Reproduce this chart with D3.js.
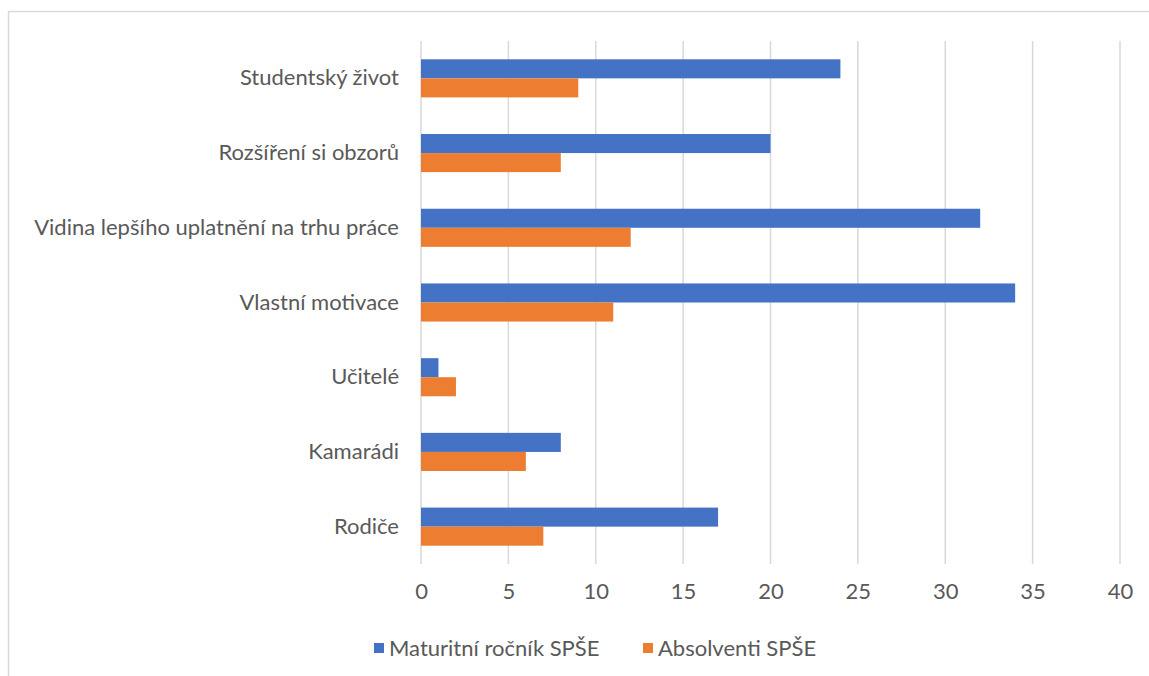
<!DOCTYPE html>
<html>
<head>
<meta charset="utf-8">
<script src="https://cdn.jsdelivr.net/npm/d3@7"></script>
<style>
  body { margin: 0; background: #fff; }
  text { font-family: Lato, "Open Sans", sans-serif; fill: #595959; }
</style>
</head>
<body>
<div id="chart"></div>
<script>
// categories top to bottom, as shown
const categories = ["Studentský život", "Rozšíření si obzorů", "Vidina lepšího uplatnění na trhu práce",
                    "Vlastní motivace", "Učitelé", "Kamarádi", "Rodiče"];
const seriesNames = ["Maturitní ročník SPŠE", "Absolventi SPŠE"];
const maturitni = [24, 20, 32, 34, 1, 8, 17];
const absolventi = [9, 8, 12, 11, 2, 6, 7];
const xTicks = [0, 5, 10, 15, 20, 25, 30, 35, 40];
const colors = ["#4472C4", "#ED7D31"];

const W = 1149, H = 676;
const margin = {top: 41, right: 29, bottom: 112, left: 421};
const width = W - margin.left - margin.right,
      height = H - margin.top - margin.bottom;
const fontSize = "22px";

const svg = d3.select("#chart").append("svg")
    .attr("width", W).attr("height", H);

// outer frame (only top/left visible in the picture)
svg.append("rect")
    .attr("x", 8.5).attr("y", 11.5)
    .attr("width", W + 10).attr("height", H + 10)
    .attr("fill", "none").attr("stroke", "#d9d9d9").attr("stroke-width", 1.5);

const g = svg.append("g")
    .attr("transform", "translate(" + margin.left + "," + margin.top + ")");

const x = d3.scaleLinear().domain([0, 40]).range([0, width]);
const y = d3.scaleBand().domain(categories).range([0, height]).paddingInner(0.49).paddingOuter(0.245);
const ySub = d3.scaleBand().domain([0, 1]).range([0, y.bandwidth()]);

// gridlines
g.selectAll(".grid").data(xTicks).enter().append("line")
    .attr("x1", d => x(d)).attr("x2", d => x(d))
    .attr("y1", 0).attr("y2", height)
    .attr("stroke", "#d9d9d9").attr("stroke-width", 1.5);

const data = categories.map((c, i) => ({cat: c, vals: [maturitni[i], absolventi[i]]}));

const groups = g.selectAll(".grp").data(data).enter().append("g")
    .attr("transform", d => "translate(0," + y(d.cat) + ")");

groups.selectAll("rect").data(d => d.vals).enter().append("rect")
    .attr("x", x(0))
    .attr("y", (d, i) => ySub(i))
    .attr("width", d => x(d) - x(0))
    .attr("height", ySub.bandwidth())
    .attr("fill", (d, i) => colors[i]);

// x axis labels
const xAxis = g.append("g")
    .attr("transform", "translate(0," + height + ")")
    .call(d3.axisBottom(x).tickValues(xTicks).tickSize(0).tickPadding(19));
xAxis.select(".domain").remove();
xAxis.selectAll("text").style("font-size", fontSize).attr("fill", "#595959")
    .style("font-family", "Lato, 'Open Sans', sans-serif");

// y axis labels
const yAxis = g.append("g")
    .call(d3.axisLeft(y).tickSize(0).tickPadding(22));
yAxis.select(".domain").remove();
yAxis.selectAll("text").style("font-size", fontSize).attr("fill", "#595959")
    .style("font-family", "Lato, 'Open Sans', sans-serif");

// legend
const legendX = [374, 643];
const legend = svg.selectAll(".leg").data(seriesNames).enter().append("g")
    .attr("transform", (d, i) => "translate(" + legendX[i] + ",648)");
legend.append("rect")
    .attr("x", 0).attr("y", -5).attr("width", 10).attr("height", 10)
    .attr("fill", (d, i) => colors[i]);
legend.append("text")
    .attr("x", 15).attr("y", 0).attr("dy", "0.35em")
    .style("font-size", fontSize)
    .text(d => d);
</script>
</body>
</html>
